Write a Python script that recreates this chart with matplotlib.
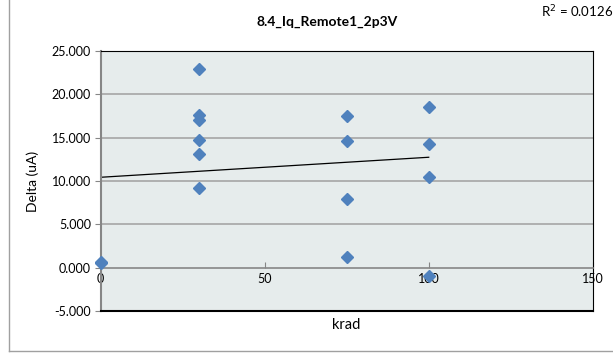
import matplotlib.pyplot as plt
import matplotlib as mpl
from matplotlib.lines import Line2D

mpl.rcParams['font.family'] = ['Lato', 'DejaVu Sans']

# dose (krad) and delta values
krad = [0, 0, 30, 30, 30, 30, 30, 30, 75, 75, 75, 75, 100, 100, 100, 100]
delta = [0.65, 0.55, 22.94, 17.57, 17.07, 14.75, 13.13, 9.15,
         17.45, 14.63, 7.91, 1.19, 18.54, 14.25, 10.46, -0.97]

# linear trendline endpoints as drawn
trend_x = [0, 100]
trend_y = [10.43, 12.74]

yticks = [-5, 0, 5, 10, 15, 20, 25]
xticks = [0, 50, 100, 150]

fig = plt.figure(figsize=(6.13, 3.53), dpi=100)
ax = fig.add_axes([0.1643, 0.119, 0.8026, 0.7365])
ax.set_facecolor('#e6ecec')

ax.set_xlim(0, 150)
ax.set_ylim(-5, 25)

for y in [5, 10, 15, 20]:
    ax.axhline(y, color='#a6a6a6', linewidth=1.2, zorder=1)

ax.plot(trend_x, trend_y, color='black', linewidth=0.9, zorder=2)
ax.plot(krad, delta, linestyle='none', marker='D', markersize=6.3,
        color='#4f81bd', markeredgecolor='#4f81bd', zorder=4, clip_on=False)

ax.spines['top'].set_color('black')
ax.spines['right'].set_color('black')
ax.spines['left'].set_color('#868686')
ax.spines['left'].set_linewidth(1.5)
ax.spines['bottom'].set_position(('data', 0))
ax.spines['bottom'].set_color('#868686')
ax.spines['bottom'].set_linewidth(1.2)
ax.plot([0, 1], [0, 0], transform=ax.transAxes, color='black', linewidth=1.5,
        clip_on=False, zorder=5)

ax.set_yticks(yticks)
ax.set_yticklabels(['%.3f' % v for v in yticks])
ax.set_xticks(xticks)
ax.set_xticklabels([str(v) for v in xticks])
ax.tick_params(axis='y', direction='out', length=4, color='#868686',
               labelsize=9, pad=3)
ax.tick_params(axis='x', direction='in', length=4, color='#868686',
               labelsize=9, pad=4)

fig.text(346 / 613, 1 - 325 / 353, 'krad', ha='center', va='center',
         fontsize=10.5)
ax.set_ylabel('Delta (uA)', fontsize=10)
ax.yaxis.set_label_coords(-0.125, 0.5)

fig.text(327 / 613, 1 - 22 / 353, '8.4_Iq_Remote1_2p3V', ha='center',
         va='center', fontsize=10, fontweight='bold')
fig.text(541 / 613, 1 - 12 / 353, 'R$^2$ = 0.0126', ha='left', va='center',
         fontsize=9.5)

# chart area border (only left and bottom visible)
fig.add_artist(Line2D([8.5 / 613, 8.5 / 613], [1, 1 - 351 / 353],
                      color='#a0a0a0', linewidth=1))
fig.add_artist(Line2D([8.5 / 613, 1], [1 - 351 / 353, 1 - 351 / 353],
                      color='#a0a0a0', linewidth=1))

fig.savefig('out.png', dpi=100)
